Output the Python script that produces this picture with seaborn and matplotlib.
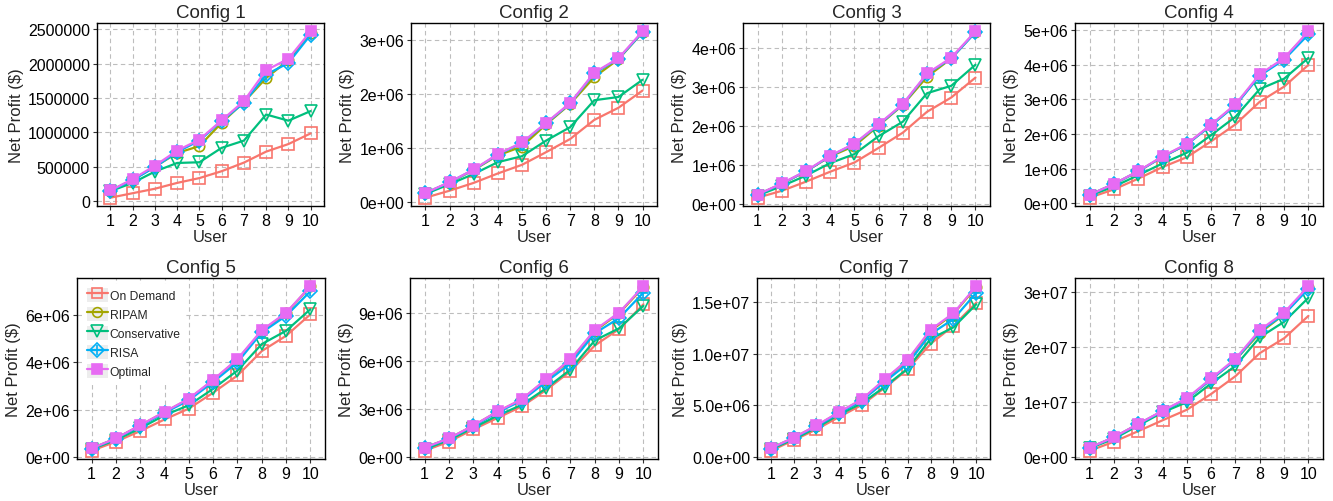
import matplotlib
matplotlib.use("Agg")
import matplotlib.pyplot as plt
import seaborn as sns
import numpy as np
import pandas as pd
from matplotlib.lines import Line2D
from matplotlib.patches import Rectangle
from matplotlib.legend_handler import HandlerTuple
from matplotlib.ticker import FixedLocator, FixedFormatter

# ---------------- data ----------------
users = [1, 2, 3, 4, 5, 6, 7, 8, 9, 10]
config_titles = ["Config 1", "Config 2", "Config 3", "Config 4",
                 "Config 5", "Config 6", "Config 7", "Config 8"]
series_names = ["On Demand", "RIPAM", "Conservative", "RISA", "Optimal"]

on_demand = [
    [50000, 115000, 180000, 265000, 335000, 435000, 560000, 720000, 830000, 985000],
    [80000, 210000, 355000, 530000, 690000, 925000, 1170000, 1525000, 1750000, 2070000],
    [155000, 330000, 565000, 820000, 1055000, 1430000, 1820000, 2355000, 2720000, 3230000],
    [160000, 400000, 710000, 1045000, 1330000, 1790000, 2280000, 2935000, 3370000, 4000000],
    [270000, 655000, 1100000, 1590000, 2050000, 2720000, 3445000, 4475000, 5120000, 6025000],
    [380000, 950000, 1715000, 2440000, 3160000, 4190000, 5370000, 6985000, 8015000, 9565000],
    [580000, 1600000, 2650000, 3860000, 5040000, 6700000, 8490000, 10950000, 12700000, 14940000],
    [1050000, 2700000, 4620000, 6600000, 8520000, 11400000, 14640000, 18840000, 21540000, 25620000],
]
ripam = [
    [150000, 310000, 500000, 700000, 800000, 1140000, 1440000, 1790000, 2050000, 2440000],
    [165000, 360000, 595000, 865000, 1030000, 1440000, 1820000, 2320000, 2650000, 3150000],
    [230000, 510000, 830000, 1210000, 1480000, 2000000, 2530000, 3250000, 3720000, 4400000],
    [240000, 555000, 920000, 1340000, 1700000, 2260000, 2840000, 3700000, 4180000, 4950000],
    [370000, 790000, 1340000, 1900000, 2450000, 3240000, 4110000, 5320000, 6070000, 7200000],
    [575000, 1150000, 1950000, 2830000, 3590000, 4840000, 6080000, 7900000, 9000000, 10650000],
    [820000, 1830000, 3000000, 4300000, 5540000, 7470000, 9350000, 12200000, 13850000, 16450000],
    [1600000, 3500000, 5900000, 8250000, 10500000, 14050000, 17600000, 22500000, 25900000, 30800000],
]
conservative = [
    [145000, 265000, 430000, 555000, 565000, 775000, 880000, 1260000, 1170000, 1310000],
    [150000, 330000, 520000, 740000, 850000, 1140000, 1390000, 1890000, 1950000, 2270000],
    [210000, 450000, 720000, 1040000, 1270000, 1730000, 2100000, 2830000, 3020000, 3560000],
    [220000, 480000, 810000, 1150000, 1460000, 1970000, 2500000, 3300000, 3600000, 4200000],
    [340000, 725000, 1215000, 1770000, 2190000, 2885000, 3655000, 4770000, 5330000, 6240000],
    [470000, 1055000, 1820000, 2580000, 3265000, 4300000, 5475000, 7300000, 8060000, 9470000],
    [730000, 1690000, 2810000, 4085000, 5200000, 6800000, 8555000, 11430000, 12545000, 14780000],
    [1500000, 3240000, 5640000, 8040000, 9900000, 13320000, 16500000, 21720000, 24540000, 28920000],
]
risa = [
    [150000, 305000, 495000, 715000, 880000, 1165000, 1430000, 1840000, 2010000, 2420000],
    [165000, 365000, 600000, 880000, 1095000, 1460000, 1830000, 2390000, 2660000, 3150000],
    [225000, 510000, 830000, 1220000, 1530000, 2020000, 2540000, 3320000, 3720000, 4390000],
    [240000, 555000, 920000, 1340000, 1700000, 2250000, 2830000, 3690000, 4150000, 4880000],
    [360000, 780000, 1320000, 1870000, 2400000, 3170000, 4000000, 5260000, 5960000, 7000000],
    [560000, 1140000, 1920000, 2790000, 3530000, 4710000, 5850000, 7750000, 8700000, 10300000],
    [800000, 1800000, 2950000, 4250000, 5450000, 7280000, 9030000, 11900000, 13350000, 15900000],
    [1580000, 3480000, 5880000, 8260000, 10500000, 14050000, 17600000, 22800000, 25900000, 30550000],
]
optimal = [
    [155000, 320000, 515000, 735000, 895000, 1175000, 1455000, 1905000, 2070000, 2470000],
    [170000, 370000, 605000, 890000, 1105000, 1470000, 1840000, 2405000, 2670000, 3170000],
    [235000, 520000, 840000, 1230000, 1540000, 2035000, 2555000, 3335000, 3740000, 4415000],
    [245000, 560000, 930000, 1355000, 1715000, 2275000, 2860000, 3730000, 4195000, 4970000],
    [375000, 795000, 1350000, 1910000, 2470000, 3265000, 4140000, 5355000, 6095000, 7210000],
    [580000, 1160000, 1960000, 2850000, 3615000, 4875000, 6115000, 7955000, 9050000, 10700000],
    [830000, 1850000, 3030000, 4340000, 5585000, 7530000, 9415000, 12320000, 13915000, 16530000],
    [1620000, 3540000, 5940000, 8340000, 10620000, 14220000, 17820000, 23040000, 26220000, 31020000],
]

y_tick_values = [
    [0, 500000, 1000000, 1500000, 2000000, 2500000],
    [0, 1e6, 2e6, 3e6],
    [0, 1e6, 2e6, 3e6, 4e6],
    [0, 1e6, 2e6, 3e6, 4e6, 5e6],
    [0, 2e6, 4e6, 6e6],
    [0, 3e6, 6e6, 9e6],
    [0, 5e6, 1e7, 1.5e7],
    [0, 1e7, 2e7, 3e7],
]
y_tick_labels = [
    ["0", "500000", "1000000", "1500000", "2000000", "2500000"],
    ["0e+00", "1e+06", "2e+06", "3e+06"],
    ["0e+00", "1e+06", "2e+06", "3e+06", "4e+06"],
    ["0e+00", "1e+06", "2e+06", "3e+06", "4e+06", "5e+06"],
    ["0e+00", "2e+06", "4e+06", "6e+06"],
    ["0e+00", "3e+06", "6e+06", "9e+06"],
    ["0.0e+00", "5.0e+06", "1.0e+07", "1.5e+07"],
    ["0e+00", "1e+07", "2e+07", "3e+07"],
]

# ---------------- style ----------------
sns.set_theme(style="white")
plt.rcParams["font.family"] = ["Liberation Sans", "DejaVu Sans"]

colors = {"On Demand": "#F8766D", "RIPAM": "#A3A500", "Conservative": "#00BF7D",
          "RISA": "#00B0F6", "Optimal": "#E76BF3"}
markers = {"On Demand": "s", "RIPAM": "o", "Conservative": "v", "RISA": "D", "Optimal": "s"}
msizes = {"On Demand": 8, "RIPAM": 7.5, "Conservative": 8.5, "RISA": 7.5, "Optimal": 7}
filled = {"On Demand": False, "RIPAM": False, "Conservative": False, "RISA": False, "Optimal": True}

W, H = 1333, 502
fig = plt.figure(figsize=(W / 100, H / 100), dpi=100)
fig.patch.set_facecolor("white")

# panel boxes in pixels: left, top, right, bottom
boxes = [
    (97, 24, 324, 207), (411, 24, 657, 207), (743, 24, 990, 207), (1075, 24, 1323, 207),
    (77, 279, 325, 460), (410, 279, 658, 460), (757, 279, 990, 460), (1075, 279, 1323, 460),
]

all_series = [on_demand, ripam, conservative, risa, optimal]

for i in range(8):
    l, t, r, b = boxes[i]
    ax = fig.add_axes([l / W, 1 - b / H, (r - l) / W, (b - t) / H])
    ax.set_facecolor("white")
    for name, arr in zip(series_names, all_series):
        c = colors[name]
        df = pd.DataFrame({"User": users, "Profit": arr[i]})
        sns.lineplot(data=df, x="User", y="Profit", ax=ax, color=c, linewidth=1.6,
                     marker=markers[name], markersize=msizes[name],
                     markerfacecolor=(c if filled[name] else "none"),
                     markeredgecolor=c, markeredgewidth=1.2, zorder=3)
        if name == "RISA":
            sns.scatterplot(data=df, x="User", y="Profit", ax=ax, color=c,
                            marker="+", s=55, linewidth=1.2, zorder=3)
    ax.set_xlim(0.4, 10.6)
    ax.xaxis.set_major_locator(FixedLocator(users))
    ax.xaxis.set_major_formatter(FixedFormatter([str(u) for u in users]))
    ax.yaxis.set_major_locator(FixedLocator(y_tick_values[i]))
    ax.yaxis.set_major_formatter(FixedFormatter(y_tick_labels[i]))
    ax.grid(True, color="#BDBDBD", linestyle=(0, (4, 3)), linewidth=0.8, zorder=0)
    ax.set_axisbelow(True)
    for s in ax.spines.values():
        s.set_color("black")
        s.set_linewidth(1.0)
    ax.tick_params(axis="both", which="major", length=3, width=0.8, color="#333333",
                   labelsize=11.5, labelcolor="black", pad=2, direction="out",
                   bottom=True, left=True)
    ax.set_xlabel("User", fontsize=12, labelpad=1)
    ax.set_ylabel("Net Profit ($)", fontsize=12, labelpad=3)
    ax.set_title(config_titles[i], fontsize=13.5, pad=4)

    if i == 4:
        handles = []
        for name in series_names:
            c = colors[name]
            bg = Rectangle((0, 0), 1, 1, facecolor="#EDEDED", edgecolor="none")
            ln = Line2D([], [], color=c, linewidth=1.6, marker=markers[name],
                        markersize=msizes[name] - 0.5,
                        markerfacecolor=(c if filled[name] else "none"),
                        markeredgecolor=c, markeredgewidth=1.2)
            if name == "RISA":
                pl = Line2D([], [], color=c, linestyle="none", marker="+",
                            markersize=7.5, markeredgewidth=1.2)
                handles.append((bg, ln, pl))
            else:
                handles.append((bg, ln))
        ax.legend(handles, series_names, loc="upper left", fontsize=8.7,
                  frameon=True, facecolor="white", edgecolor="white", framealpha=1,
                  handler_map={tuple: HandlerTuple(ndivide=1, pad=0)},
                  handlelength=1.75, handleheight=1.4, labelspacing=0.42,
                  handletextpad=0.15, borderpad=0.3, borderaxespad=0.5)

fig.savefig("out.png", dpi=100, facecolor="white")
